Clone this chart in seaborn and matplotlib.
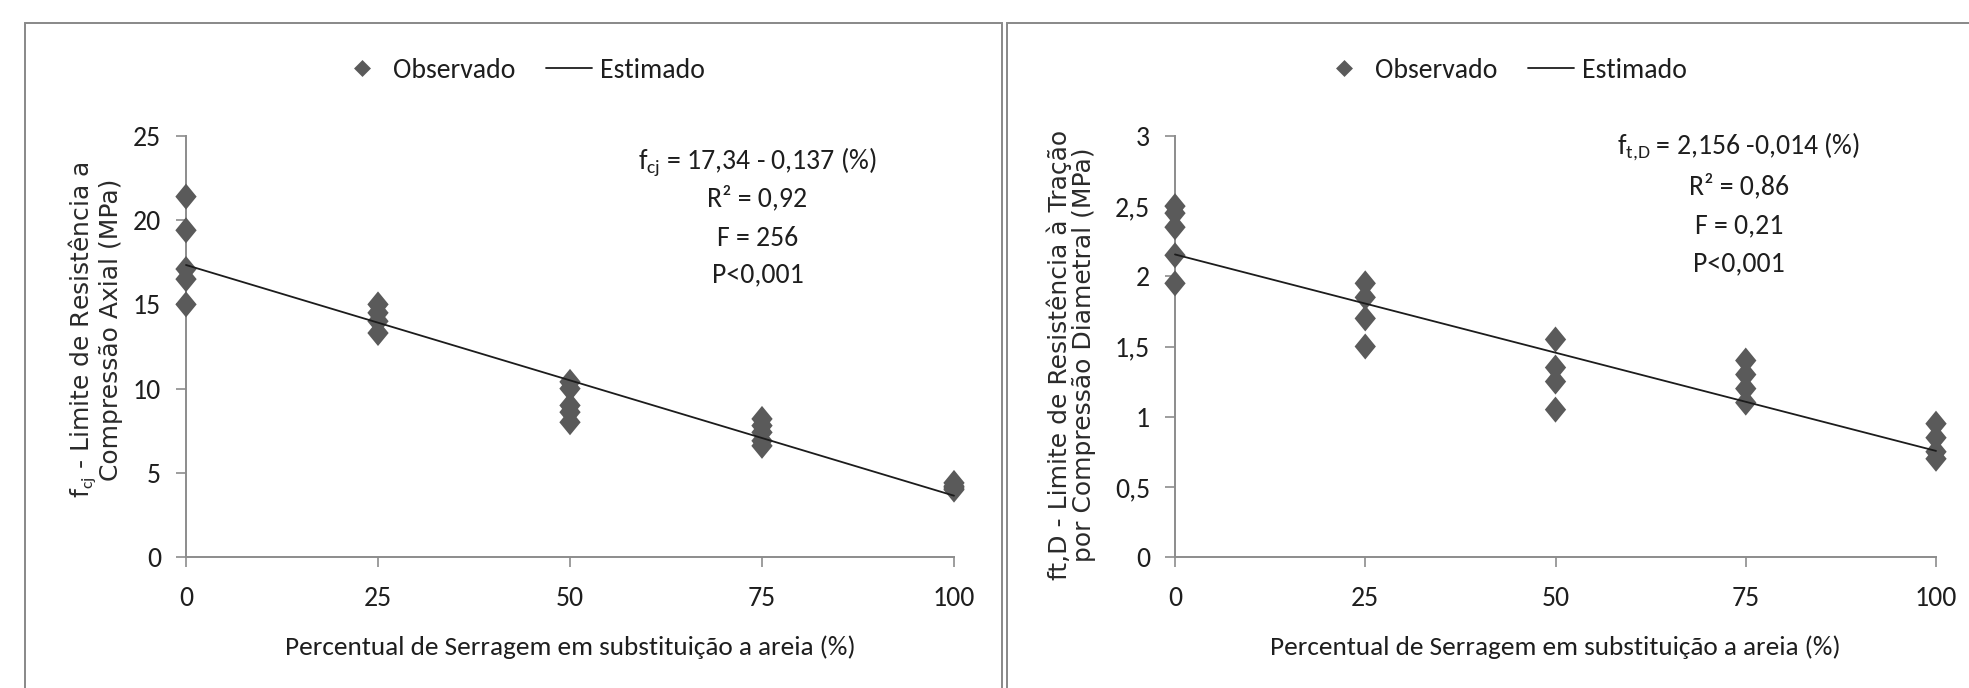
import matplotlib
matplotlib.use("Agg")
import matplotlib.pyplot as plt
from matplotlib import font_manager as fm
from matplotlib.lines import Line2D
from matplotlib.patches import Rectangle
import numpy as np
import pandas as pd
import seaborn as sns

# ---------------- data ----------------
pct_ticks = [0, 25, 50, 75, 100]

fc_pct = [0, 0, 0, 0, 0, 25, 25, 25, 25, 50, 50, 50, 50, 50, 75, 75, 75, 75, 75, 100, 100, 100, 100]
fc_obs = [21.4, 19.4, 17.1, 16.5, 15.0, 15.0, 14.5, 14.0, 13.3, 10.4, 10.0, 9.0, 8.6, 8.0,
          8.2, 7.8, 7.4, 6.9, 6.6, 4.4, 4.2, 4.1, 4.0]
fc_intercept, fc_slope = 17.34, -0.137
fc_yticks = [0, 5, 10, 15, 20, 25]
fc_yticklabels = ["0", "5", "10", "15", "20", "25"]

ft_pct = [0, 0, 0, 0, 0, 25, 25, 25, 25, 50, 50, 50, 50, 75, 75, 75, 75, 100, 100, 100, 100]
ft_obs = [2.5, 2.45, 2.35, 2.15, 1.95, 1.95, 1.85, 1.7, 1.5, 1.55, 1.35, 1.25, 1.05,
          1.4, 1.3, 1.2, 1.1, 0.95, 0.85, 0.75, 0.7]
ft_intercept, ft_slope = 2.156, -0.014
ft_yticks = [0, 0.5, 1, 1.5, 2, 2.5, 3]
ft_yticklabels = ["0", "0,5", "1", "1,5", "2", "2,5", "3"]

xlabel = "Percentual de Serragem em substituição a areia (%)"
legend_labels = ["Observado", "Estimado"]
fc_ylabel = "f$_{\\mathrm{cj}}$ - Limite de Resistência a\nCompressão Axial (MPa)"
ft_ylabel = "ft,D - Limite de Resistência à Tração\npor Compressão Diametral (MPa)"
fc_annot = ["f$_{\\mathrm{cj}}$ = 17,34 - 0,137 (%)", "R² = 0,92", "F = 256", "P<0,001"]
ft_annot = ["f$_{\\mathrm{t{,}D}}$ = 2,156 -0,014 (%)", "R² = 0,86", "F = 0,21", "P<0,001"]

# ---------------- style ----------------
sns.set_theme(style="white")
avail = {f.name for f in fm.fontManager.ttflist}
main_font = next((f for f in ["Carlito", "Liberation Sans Narrow", "Liberation Sans"] if f in avail), "DejaVu Sans")
plt.rcParams["font.family"] = [main_font, "DejaVu Sans"]
plt.rcParams["mathtext.fontset"] = "custom"
plt.rcParams["mathtext.rm"] = main_font
plt.rcParams["mathtext.it"] = main_font
plt.rcParams["mathtext.default"] = "regular"

W, H = 1969, 688
fig = plt.figure(figsize=(W / 100, H / 100), dpi=100)
fig.patch.set_facecolor("white")

MARK = "#5a5a5a"
LINEC = "#1c1c1c"
AXC = "#8c8c8c"
TXT = "#1e1e1e"
FS = 20

diamond = [(0, 1), (0.82, 0), (0, -1), (-0.82, 0), (0, 1)]
sq_diamond = [(0, 1), (1, 0), (0, -1), (-1, 0), (0, 1)]

# panel borders
fig.add_artist(Rectangle((25 / W, -0.05), (1002 - 25) / W, (H - 23) / H + 0.05,
                         transform=fig.transFigure, fill=False, ec="#888888", lw=1.4))
fig.add_artist(Rectangle((1007 / W, -0.05), 0.6, (H - 23) / H + 0.05,
                         transform=fig.transFigure, fill=False, ec="#888888", lw=1.4))


def panel(x0, x1, pct, obs, b0, b1, yticks, yticklabels, ylabel, ylab_y, annot, annot_x,
          annot_y, leg_x, ylab_x):
    y0, y1 = 557, 136
    ax = fig.add_axes([x0 / W, (H - y0) / H, (x1 - x0) / W, (y0 - y1) / H])
    df = pd.DataFrame({"pct": pct, "obs": obs})
    sns.scatterplot(data=df, x="pct", y="obs", ax=ax, marker=diamond, s=350,
                    color=MARK, edgecolor="none", linewidth=0, clip_on=False, zorder=3,
                    legend=False)
    xs = np.array([pct_ticks[0], pct_ticks[-1]], dtype=float)
    est = pd.DataFrame({"pct": xs, "est": b0 + b1 * xs})
    sns.lineplot(data=est, x="pct", y="est", ax=ax, color=LINEC, lw=1.3, zorder=4,
                 clip_on=False)
    ax.set_xlim(0, 100)
    ax.set_ylim(yticks[0], yticks[-1])
    ax.set_xticks(pct_ticks)
    ax.set_xticklabels([str(t) for t in pct_ticks])
    ax.set_yticks(yticks)
    ax.set_yticklabels(yticklabels)
    for s in ["top", "right"]:
        ax.spines[s].set_visible(False)
    for s in ["left", "bottom"]:
        ax.spines[s].set_color(AXC)
        ax.spines[s].set_linewidth(1.4)
    ax.tick_params(axis="x", direction="out", length=7, width=1.2, color=AXC,
                   pad=14, labelsize=FS, labelcolor=TXT, bottom=True)
    ax.tick_params(axis="y", direction="out", length=7, width=1.2, color=AXC,
                   pad=11, labelsize=FS, labelcolor=TXT, left=True)
    ax.set_xlabel(xlabel, fontsize=19.6, color=TXT)
    ax.xaxis.set_label_coords(0.5, (557 - 635) / 421)
    ax.xaxis.label.set_va("top")
    ax.set_ylabel(ylabel, fontsize=18, color="#2a2a2a", family="DejaVu Sans",
                  linespacing=1.0)
    ax.yaxis.set_label_coords((ylab_x - x0) / (x1 - x0), ylab_y)
    ax.grid(False)
    for t, yy in zip(annot, annot_y):
        ax.text(annot_x, yy, t, transform=ax.transAxes, ha="center", va="center",
                fontsize=FS, color=TXT)
    handles = [Line2D([], [], ls="none", marker=sq_diamond, ms=12.2, color=MARK, mec="none"),
               Line2D([], [], color=LINEC, lw=1.3)]
    fig.legend(handles, legend_labels, loc="center", bbox_to_anchor=(leg_x / W, (H - 70) / H),
               ncol=2, frameon=False, fontsize=FS, handlelength=1.65, handletextpad=0.3,
               columnspacing=1.1, labelcolor=TXT)
    return ax


panel(186, 954, fc_pct, fc_obs, fc_intercept, fc_slope, fc_yticks, fc_yticklabels,
      fc_ylabel, 0.54, fc_annot, 0.744, [0.94, 0.852, 0.757, 0.67], 522, 123)
panel(1175, 1936, ft_pct, ft_obs, ft_intercept, ft_slope, ft_yticks, ft_yticklabels,
      ft_ylabel, 0.48, ft_annot, 0.741, [0.974, 0.879, 0.786, 0.696], 1504, 1096)

fig.savefig("out.png", dpi=100, facecolor="white")
